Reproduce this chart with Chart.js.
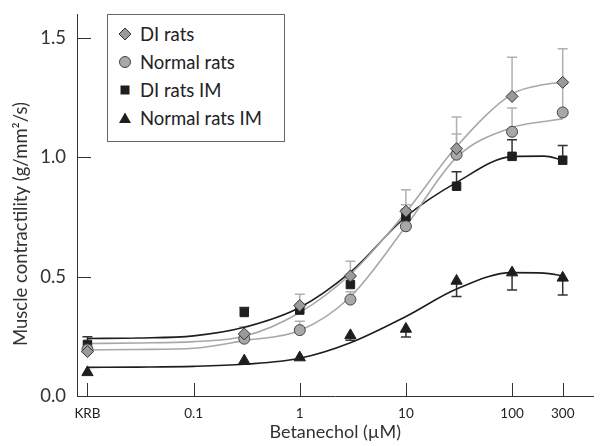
<!DOCTYPE html>
<html>
<head>
<meta charset="utf-8">
<script src="https://cdn.jsdelivr.net/npm/chart.js@4.4.1/dist/chart.umd.min.js"></script>
<style>
  body { margin: 0; background: #fff; }
  #wrap { position: relative; width: 601px; height: 446px; }
  #legend {
    position: absolute; left: 107px; top: 14px; width: 176px; height: 121px;
    border: 1.5px solid #666; background: #fff;
    font-family: Lato, sans-serif; font-size: 18.5px; color: #222;
    padding-top: 5px; box-sizing: content-box;
  }
  #legend .row { height: 28px; display: flex; align-items: center; }
  #legend svg { margin-left: 10px; margin-right: 8px; }
</style>
</head>
<body>
<div id="wrap">
  <canvas id="muscleChart" width="601" height="446"></canvas>
  <div id="legend"></div>
</div>
<script>
// Doses (uM); KRB (buffer only) is plotted at 0.01
const doses = [0.01, 0.3, 1, 3, 10, 30, 100, 300];
const xTickValues = [0.01, 0.1, 1, 10, 100, 300];
const xTickLabels = ['KRB', '0.1', '1', '10', '100', '300'];
const yTickValues = [0, 0.5, 1.0, 1.5];

const diRats = [0.186, 0.26, 0.379, 0.503, 0.774, 1.036, 1.255, 1.314];
const diRatsErr = [0, 0.03, 0.047, 0.062, 0.09, 0.133, 0.164, 0.141];
const normalRats = [0.195, 0.24, 0.276, 0.404, 0.711, 1.011, 1.107, 1.188];
const normalRatsErr = [0, 0, 0.037, 0.033, 0.09, 0.087, 0.10, 0.12];
const diRatsIM = [0.216, 0.35, 0.36, 0.467, 0.751, 0.879, 1.004, 0.988];
const diRatsIMErr = [0.032, 0.021, 0.02, 0.03, 0.03, 0.061, 0.07, 0.062];
const normalRatsIM = [0.099, 0.148, 0.161, 0.254, 0.281, 0.482, 0.517, 0.495];
const normalRatsIMErr = [0, 0, 0, 0.02, 0.034, 0.065, 0.073, 0.072]; // drawn downward

// fitted curves
const fitDoses = [0.01, 0.03, 0.1, 0.3, 1, 3, 10, 30, 100, 200, 300];
const diRatsFit = [0.22, 0.222, 0.228, 0.25, 0.35, 0.51, 0.77, 1.045, 1.265, 1.305, 1.314];
const normalRatsFit = [0.193, 0.195, 0.2, 0.232, 0.274, 0.416, 0.711, 1.0, 1.125, 1.15, 1.161];
const diRatsIMFit = [0.241, 0.243, 0.252, 0.288, 0.371, 0.519, 0.751, 0.895, 1.003, 1.005, 0.988];
const normalRatsIMFit = [0.12, 0.121, 0.124, 0.133, 0.158, 0.223, 0.333, 0.448, 0.517, 0.515, 0.503];

const FONT = 'Lato, sans-serif';
const GREY_LINE = '#a8a8a8';
const DARK = '#1e1e1e';

const series = [
  { label: 'DI rats', y: diRats, err: diRatsErr, dir: 1, fit: diRatsFit,
    style: 'rectRot', radius: 6, fill: '#9a9a9a', border: '#333', line: GREY_LINE, errColor: '#b0b0b0' },
  { label: 'Normal rats', y: normalRats, err: normalRatsErr, dir: 1, fit: normalRatsFit,
    style: 'circle', radius: 5.5, fill: '#a8a8a8', border: '#444', line: GREY_LINE, errColor: '#b0b0b0' },
  { label: 'DI rats IM', y: diRatsIM, err: diRatsIMErr, dir: 1, fit: diRatsIMFit,
    style: 'rect', radius: 6, fill: DARK, border: DARK, line: DARK, errColor: '#333' },
  { label: 'Normal rats IM', y: normalRatsIM, err: normalRatsIMErr, dir: -1, fit: normalRatsIMFit,
    style: 'triangle', radius: 6.5, fill: DARK, border: DARK, line: DARK, errColor: '#333' }
];

const datasets = [];
series.forEach(s => {
  datasets.push({
    label: s.label + ' fit',
    data: fitDoses.map((x, i) => ({ x, y: s.fit[i] })),
    showLine: true,
    borderColor: s.line,
    borderWidth: 1.6,
    pointRadius: 0,
    cubicInterpolationMode: 'monotone',
    order: 2
  });
  datasets.push({
    label: s.label,
    data: doses.map((x, i) => ({ x, y: s.y[i] })),
    showLine: false,
    pointStyle: s.style,
    pointRadius: s.radius,
    backgroundColor: s.fill,
    borderColor: s.border,
    borderWidth: 1,
    errors: s.err,
    errDir: s.dir,
    errColor: s.errColor,
    order: 1
  });
});

// error bars (behind markers)
const errorBars = {
  id: 'errorBars',
  beforeDatasetsDraw(chart) {
    const { ctx, scales: { x, y } } = chart;
    ctx.save();
    ctx.lineWidth = 1.5;
    chart.data.datasets.forEach(ds => {
      if (!ds.errors) return;
      ctx.strokeStyle = ds.errColor;
      ds.data.forEach((p, i) => {
        const e = ds.errors[i];
        if (!e) return;
        const px = x.getPixelForValue(p.x);
        const py0 = y.getPixelForValue(p.y);
        const py1 = y.getPixelForValue(p.y + ds.errDir * e);
        ctx.beginPath();
        ctx.moveTo(px, py0);
        ctx.lineTo(px, py1);
        ctx.moveTo(px - 5, py1);
        ctx.lineTo(px + 5, py1);
        ctx.stroke();
      });
    });
    ctx.restore();
  }
};

// tick marks pointing into the plot, plus the rotated y title
const innerTicks = {
  id: 'innerTicks',
  afterDraw(chart) {
    const { ctx, chartArea, scales: { x, y } } = chart;
    ctx.save();
    ctx.strokeStyle = '#333';
    ctx.lineWidth = 1;
    xTickValues.forEach(v => {
      const px = Math.round(x.getPixelForValue(v)) + 0.5;
      ctx.beginPath();
      ctx.moveTo(px, chartArea.bottom);
      ctx.lineTo(px, chartArea.bottom - 13);
      ctx.stroke();
    });
    yTickValues.forEach(v => {
      const py = Math.round(y.getPixelForValue(v)) + 0.5;
      ctx.beginPath();
      ctx.moveTo(chartArea.left, py);
      ctx.lineTo(chartArea.left + 14, py);
      ctx.stroke();
    });
    ctx.translate(21, 224);
    ctx.rotate(-Math.PI / 2);
    ctx.fillStyle = '#333';
    ctx.font = '18.5px ' + FONT;
    ctx.textAlign = 'center';
    ctx.textBaseline = 'middle';
    ctx.fillText('Muscle contractility (g/mm\u00B2/s)', 0, 0);
    ctx.restore();
  }
};

new Chart(document.getElementById('muscleChart'), {
  type: 'scatter',
  data: { datasets },
  options: {
    responsive: false,
    animation: false,
    layout: { padding: { top: 7, right: 0, left: 0, bottom: 0 } },
    plugins: {
      legend: { display: false },
      tooltip: { enabled: false }
    },
    scales: {
      x: {
        type: 'logarithmic',
        min: 0.00797,
        max: 585,
        grid: { display: false },
        border: { color: '#333', width: 1 },
        afterBuildTicks: s => { s.ticks = xTickValues.map(v => ({ value: v })); },
        afterFit: s => { s.height = 50; },
        ticks: {
          autoSkip: false,
          maxRotation: 0,
          padding: 2,
          color: '#222',
          font: { family: FONT, size: 13.5 },
          callback: (v, i) => xTickLabels[i]
        },
        title: {
          display: true,
          text: 'Betanechol (\u00B5M)',
          color: '#333',
          font: { family: FONT, size: 18 },
          padding: { top: 0, bottom: 3 }
        }
      },
      y: {
        min: 0,
        max: 1.6,
        grid: { display: false },
        border: { color: '#333', width: 1 },
        afterBuildTicks: s => { s.ticks = yTickValues.map(v => ({ value: v })); },
        afterFit: s => { s.width = 77; },
        ticks: {
          padding: 3,
          color: '#333',
          font: { family: FONT, size: 18.5 },
          callback: v => v.toFixed(1)
        }
      }
    }
  },
  plugins: [errorBars, innerTicks]
});

// legend built from the series list
const legendEl = document.getElementById('legend');
series.forEach(s => {
  const c = s.fill, b = s.border;
  let shape;
  if (s.style === 'rectRot') shape = `<polygon points="7,1 13,7 7,13 1,7" fill="${c}" stroke="${b}" stroke-width="1"/>`;
  else if (s.style === 'circle') shape = `<circle cx="7" cy="7" r="5.5" fill="${c}" stroke="${b}" stroke-width="1"/>`;
  else if (s.style === 'rect') shape = `<rect x="2.5" y="2.5" width="9" height="9" fill="${c}"/>`;
  else shape = `<polygon points="7,1.5 13,12 1,12" fill="${c}"/>`;
  const row = document.createElement('div');
  row.className = 'row';
  row.innerHTML = `<svg width="14" height="14">${shape}</svg><span>${s.label}</span>`;
  legendEl.appendChild(row);
});
</script>
</body>
</html>
